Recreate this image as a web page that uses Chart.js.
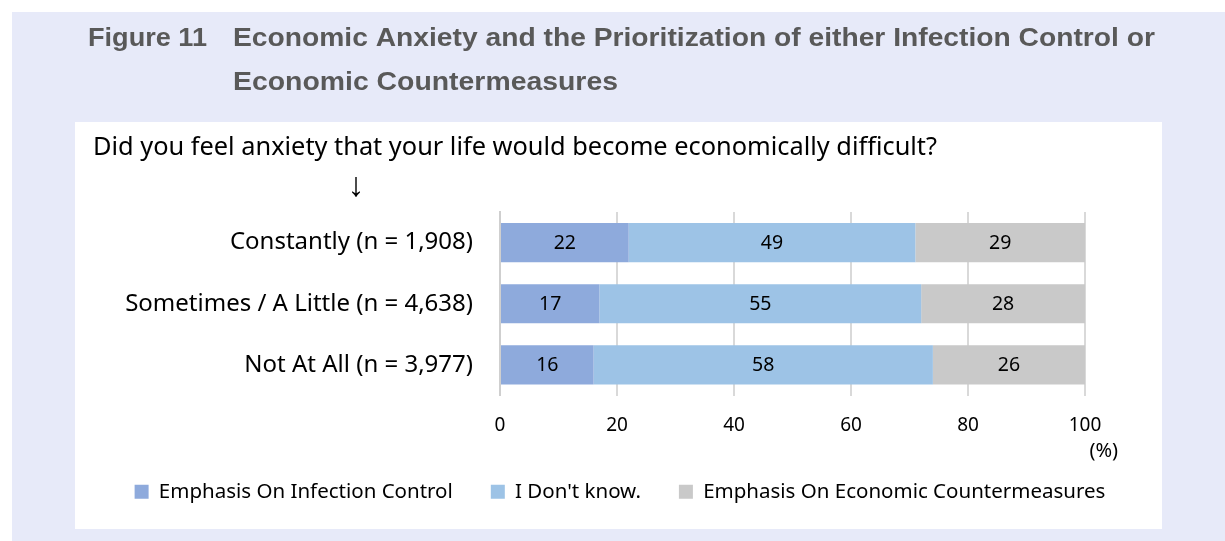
<!DOCTYPE html>
<html>
<head>
<meta charset="utf-8">
<title>Economic Anxiety and the Prioritization of either Infection Control or Economic Countermeasures</title>
<script src="https://cdn.jsdelivr.net/npm/chart.js@4.4.1/dist/chart.umd.min.js"></script>
<style>
  html, body { margin: 0; padding: 0; background: #fff; }
  canvas { display: block; }
</style>
</head>
<body>
<canvas id="anxiety" width="1225" height="541"></canvas>
<script>
// answers to the question, one bar per answer group
const categories = ['Constantly (n = 1,908)', 'Sometimes / A Little (n = 4,638)', 'Not At All (n = 3,977)'];
const seriesNames = ['Emphasis On Infection Control', "I Don't know.", 'Emphasis On Economic Countermeasures'];
const infectionControl = [22, 17, 16];
const dontKnow = [49, 55, 58];
const economicMeasures = [29, 28, 26];
const xTicks = [0, 20, 40, 60, 80, 100];

const titleLabel = 'Figure 11';
const titleLines = ['Economic Anxiety and the Prioritization of either Infection Control or', 'Economic Countermeasures'];
const question = 'Did you feel anxiety that your life would become economically difficult?';

const colors = ['#8eaadc', '#9dc3e6', '#c9c9c9'];
const FONT = "'Noto Sans', sans-serif";

// squeeze a text to a given width (the source uses narrow system fonts)
function fitText(ctx, text, x, y, width) {
    const w = ctx.measureText(text).width;
    ctx.save();
    ctx.translate(x, y);
    ctx.scale(width / w, 1);
    ctx.fillText(text, 0, 0);
    ctx.restore();
}

// page background, panel, heading and question
const framePlugin = {
    id: 'frame',
    beforeDraw(chart) {
        const ctx = chart.ctx;
        ctx.save();
        ctx.fillStyle = '#ffffff';
        ctx.fillRect(0, 0, chart.width, chart.height);
        ctx.fillStyle = '#e7eaf9';
        ctx.fillRect(12, 12, chart.width - 12, chart.height - 12);
        ctx.fillStyle = '#ffffff';
        ctx.fillRect(75, 122, 1087, 407);

        ctx.fillStyle = '#595959';
        ctx.font = "bold 25px 'Liberation Sans', Arial, sans-serif";
        ctx.textBaseline = 'alphabetic';
        fitText(ctx, titleLabel, 88, 46, 119);
        fitText(ctx, titleLines[0], 233, 46, 922);
        fitText(ctx, titleLines[1], 233, 90, 385);

        ctx.fillStyle = '#000000';
        ctx.font = '25px ' + FONT;
        fitText(ctx, question, 93, 155, 844);

        ctx.font = "34px 'Liberation Sans', 'DejaVu Sans', sans-serif";
        ctx.textAlign = 'center';
        ctx.fillText('\u2193', 356, 196);
        ctx.restore();

        // legend row is centred under the whole panel, not the plot
        const lg = chart.legend;
        const dx = 620 - (lg.left + lg.right) / 2;
        lg.left += dx;
        lg.right += dx;
    },
    afterDraw(chart) {
        // unit note under the last tick
        const ctx = chart.ctx;
        const x = chart.scales.x;
        ctx.save();
        ctx.fillStyle = '#000000';
        ctx.font = '20px ' + FONT;
        ctx.textAlign = 'right';
        ctx.textBaseline = 'middle';
        ctx.fillText('(%)', x.getPixelForValue(100) + 33, 451);
        ctx.restore();
    }
};

// value written in the middle of every segment
const segmentLabels = {
    id: 'segmentLabels',
    afterDatasetsDraw(chart) {
        const ctx = chart.ctx;
        ctx.save();
        ctx.fillStyle = '#000000';
        ctx.font = '19.5px ' + FONT;
        ctx.textAlign = 'center';
        ctx.textBaseline = 'middle';
        chart.data.datasets.forEach(function (ds, i) {
            chart.getDatasetMeta(i).data.forEach(function (bar, j) {
                ctx.fillText(ds.data[j], (bar.x + bar.base) / 2, bar.y + 1);
            });
        });
        ctx.restore();
    }
};

Chart.defaults.font.family = FONT;
Chart.defaults.color = '#000000';

new Chart(document.getElementById('anxiety'), {
    type: 'bar',
    data: {
        labels: categories,
        datasets: [
            { label: seriesNames[0], data: infectionControl, backgroundColor: colors[0] },
            { label: seriesNames[1], data: dontKnow, backgroundColor: colors[1] },
            { label: seriesNames[2], data: economicMeasures, backgroundColor: colors[2] }
        ]
    },
    options: {
        indexAxis: 'y',
        responsive: false,
        animation: false,
        devicePixelRatio: 1,
        datasets: {
            bar: { barPercentage: 1, categoryPercentage: 0.64 }
        },
        layout: {
            padding: { top: 212, left: 30, right: 140, bottom: 29 }
        },
        scales: {
            x: {
                stacked: true,
                min: 0,
                max: 100,
                afterBuildTicks: function (scale) {
                    scale.ticks = xTicks.map(v => ({ value: v }));
                },
                afterFit: function (scale) { scale.height = 48; },
                grid: { color: '#d9d9d9', lineWidth: 2, drawTicks: false },
                border: { display: false },
                ticks: { padding: 19, font: { size: 19 } }
            },
            y: {
                stacked: true,
                afterFit: function (scale) { scale.width = 470; },
                grid: { display: false, drawTicks: false },
                border: { display: true, color: '#cfcfcf', width: 2 },
                ticks: { padding: 27, font: { size: 24 } }
            }
        },
        plugins: {
            legend: {
                position: 'bottom',
                labels: { boxWidth: 14, boxHeight: 14, padding: 38, font: { size: 20.5 } }
            },
            tooltip: { enabled: false }
        }
    },
    plugins: [framePlugin, segmentLabels]
});
</script>
</body>
</html>
